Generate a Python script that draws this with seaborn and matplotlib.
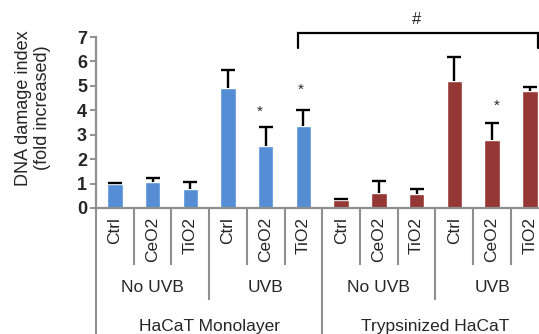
import numpy as np
import pandas as pd
import matplotlib
matplotlib.use("Agg")
import matplotlib.pyplot as plt
import seaborn as sns

# ── data ─────────────────────────────────────────────────────────────────────
cells = ["HaCaT Monolayer", "Trypsinized HaCaT"]
uvb_groups = ["No UVB", "UVB"]
treatments = ["Ctrl", "CeO2", "TiO2"]

monolayer_mean = [1.00, 1.08, 0.77, 4.93, 2.55, 3.37]
monolayer_err = [0.03, 0.14, 0.31, 0.72, 0.75, 0.66]
trypsin_mean = [0.33, 0.62, 0.58, 5.18, 2.80, 4.77]
trypsin_err = [0.04, 0.48, 0.20, 1.02, 0.70, 0.17]

star_idx = [4, 5, 10]
star_dx = [-0.15, -0.07, 0.12]
star_y = [3.94, 4.83, 4.17]

colors = {"HaCaT Monolayer": "#558ED5", "Trypsinized HaCaT": "#953735"}

rows = []
for cell, means, errs in [(cells[0], monolayer_mean, monolayer_err),
                          (cells[1], trypsin_mean, trypsin_err)]:
    k = 0
    for uvb in uvb_groups:
        for t in treatments:
            rows.append({"cell": cell, "uvb": uvb, "treat": t,
                         "key": f"{cell}|{uvb}|{t}",
                         "mean": means[k], "err": errs[k]})
            k += 1
df = pd.DataFrame(rows)

# ── figure ───────────────────────────────────────────────────────────────────
sns.set_style("white")
plt.rcParams["font.family"] = ["Liberation Sans", "DejaVu Sans"]

W, H = 539, 334
fig = plt.figure(figsize=(W / 100, H / 100), dpi=100)
ax_left, ax_bottom, ax_top, cat_w = 96, 208, 37, 37.72
ax = fig.add_axes([ax_left / W, (H - ax_bottom) / H,
                   12 * cat_w / W, (ax_bottom - ax_top) / H])

sns.barplot(data=df, x="key", y="mean", hue="cell", palette=colors,
            order=list(df["key"]), dodge=False, width=0.41,
            legend=False, ax=ax, saturation=1, errorbar=None)

# upper-only error bars
xs = np.arange(len(df))
eb = ax.errorbar(xs, df["mean"], yerr=[np.zeros(len(df)), df["err"]],
                 fmt="none", ecolor="black", elinewidth=1.7, capsize=5,
                 capthick=1.7, zorder=3)
eb.lines[1][0].set_visible(False)

ax.set_xlim(-0.5, 11.5)
ax.set_ylim(0, 7)
ax.set_yticks(range(8))
ax.set_yticklabels([str(i) for i in range(8)], fontsize=13, fontweight="bold")
ax.set_xticks([])
ax.set_xlabel("")
ax.set_ylabel("")
sns.despine(ax=ax, top=True, right=True)
gray = "#8f8f8f"
for s in ["left", "bottom"]:
    ax.spines[s].set_color(gray)
    ax.spines[s].set_linewidth(1.6)
ax.tick_params(axis="y", direction="out", length=4.5, width=1.4,
               color=gray, pad=2, left=True)

fig.text(33 / W, 1 - 108 / H, "DNA damage index\n(fold increased)",
         rotation=90, ha="center", va="center", fontsize=13, linespacing=1.1)

# ── multi-level category axis ────────────────────────────────────────────────
trans = ax.get_xaxis_transform()
span = ax_bottom - ax_top


def ay(ypx):
    return (ax_bottom - ypx) / span


for j in range(13):
    if j % 6 == 0:
        y_end = H
    elif j % 3 == 0:
        y_end = 300
    else:
        y_end = 265
    ax.plot([j - 0.5, j - 0.5], [0, ay(y_end)], color=gray, lw=1.5,
            transform=trans, clip_on=False, solid_capstyle="butt")

for i, t in enumerate(df["treat"]):
    ax.text(i, ay(217), t, rotation=90, ha="center", va="top",
            fontsize=12.5, transform=trans, clip_on=False)

for g in range(4):
    ax.text(3 * g + 1, ay(287), uvb_groups[g % 2], ha="center", va="center",
            fontsize=12.5, transform=trans, clip_on=False)

for c, cell in enumerate(cells):
    ax.text(6 * c + 2.5, ay(326), cell, ha="center", va="center",
            fontsize=12.5, transform=trans, clip_on=False)

# ── significance marks ───────────────────────────────────────────────────────
for i, dx, y in zip(star_idx, star_dx, star_y):
    ax.text(i + dx, y, "*", ha="center", va="center", fontsize=11,
            clip_on=False)

ax.plot([4.85, 4.85, 11.23, 11.23], [6.54, 7.15, 7.15, 6.54], color="black",
        lw=1.6, clip_on=False, solid_joinstyle="miter")
ax.text(8.0, 7.72, "#", ha="center", va="center", fontsize=12,
        clip_on=False)

fig.savefig("out.png", dpi=100)
